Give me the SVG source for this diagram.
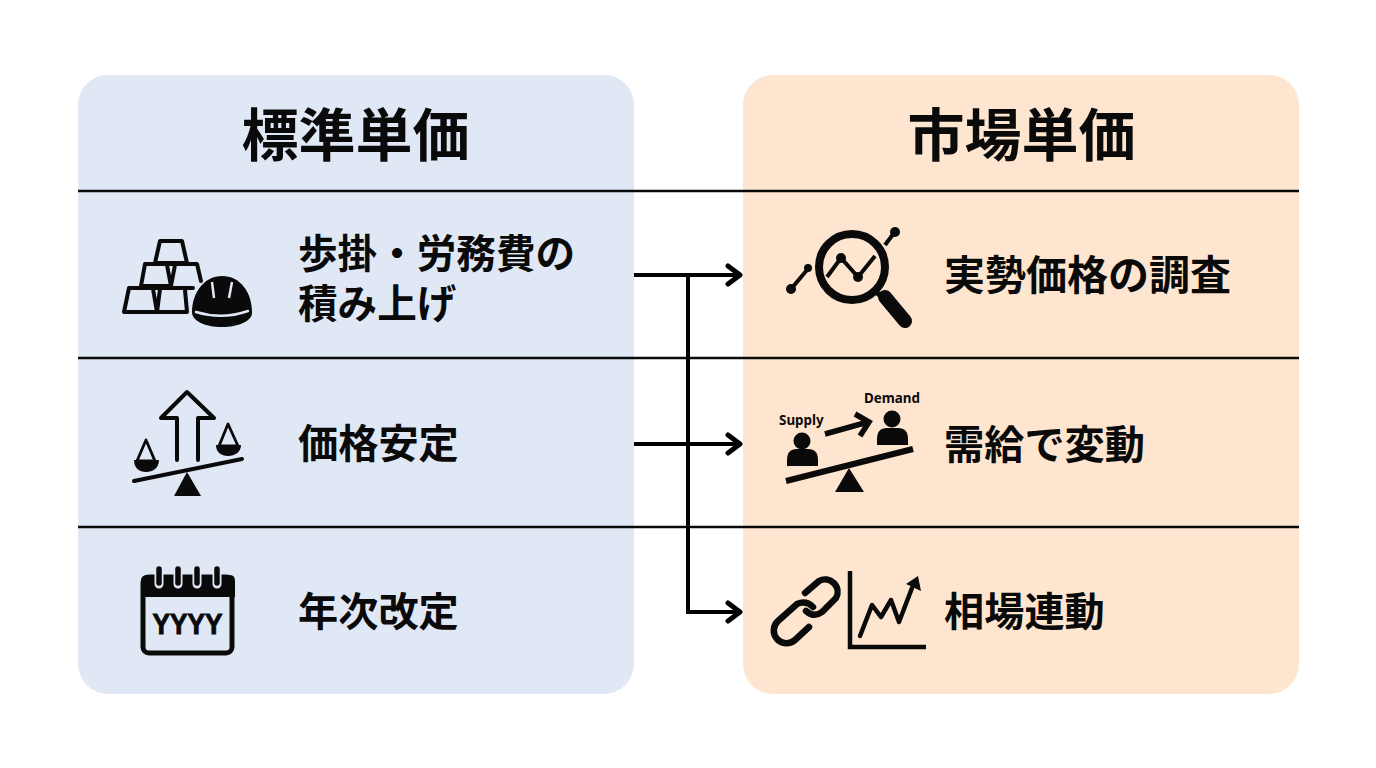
<svg xmlns="http://www.w3.org/2000/svg" width="1376" height="768" viewBox="0 0 1376 768">
<style>
.t{font-family:"Noto Sans CJK JP","Noto Sans",sans-serif;font-weight:700;fill:#0a0a0a}
.h{font-size:57px;text-anchor:middle}
.r{font-size:40.2px}
.s{fill:none;stroke:#0a0a0a;stroke-width:4;stroke-linejoin:round;stroke-linecap:round}
.f{fill:#0a0a0a}
.c{fill:none;stroke:#000;stroke-width:4}
.d{stroke:#0a0a0a;stroke-width:2.6}
.l{font-family:"Noto Sans","Liberation Sans",sans-serif;font-weight:700;font-size:13.4px;fill:#0a0a0a}
</style>
<defs>
<marker id="a" markerUnits="userSpaceOnUse" markerWidth="20" markerHeight="24" refX="15" refY="12" orient="auto"><path d="M3 3L15 12L3 21" fill="none" stroke="#000" stroke-width="5" stroke-linecap="round" stroke-linejoin="round"/></marker>
</defs>
<rect width="1376" height="768" fill="#fff"/>
<g id="panel-standard"><rect x="78" y="75" width="556" height="619" rx="30" fill="#e0e8f6"/></g>
<g id="panel-market"><rect x="743" y="75" width="556" height="619" rx="30" fill="#fde5d0"/></g>
<g id="dividers">
<line class="d" x1="78" y1="191" x2="1299" y2="191"/>
<line class="d" x1="78" y1="358" x2="1299" y2="358"/>
<line class="d" x1="78" y1="527" x2="1299" y2="527"/>
</g>
<g id="connectors">
<path class="c" d="M634 275H740" marker-end="url(#a)"/>
<path class="c" d="M634 444H740" marker-end="url(#a)"/>
<path class="c" d="M688 275V612H740" marker-end="url(#a)"/>
</g>
<g id="title-standard"><text class="t h" x="355.500" y="156">標準単価</text></g>
<g id="title-market"><text class="t h" x="1021.500" y="156">市場単価</text></g>
<g id="std-1">
<path class="s" d="M160 241H182L187 263H155Z"/>
<path class="s" d="M145 264H197L201 281M145 264L141 286H171L167 265M171 286L175 265"/>
<path class="s" d="M129 288H193M129 288L124 312H187L185 290M153 289L157 312L160 289"/>
<path class="f" d="M192 312C192 292 205 276 222 276C240 276 252 292 252 313C252 321 238 327 222 327C205 327 192 321 192 312Z"/>
<path d="M196 312Q222 320 248 311" fill="none" stroke="#e0e8f6" stroke-width="2.5" stroke-linecap="round"/>
<path d="M212 282L214 298M232 282L229 298" fill="none" stroke="#e0e8f6" stroke-width="2.5"/>
<text class="t" font-size="39.6" x="298" y="268">歩掛・労務費の</text>
<text class="t" font-size="39.6" x="298" y="318">積み上げ</text>
</g>
<g id="std-2">
<path class="s" d="M177 460V418H161L187 392L214 418H198V460"/>
<path d="M134 481L242 459" fill="none" stroke="#0a0a0a" stroke-width="4" stroke-linecap="round"/>
<path class="f" d="M187 472L201 496H174Z"/>
<path d="M146 440L137 461H155Z" fill="none" stroke="#0a0a0a" stroke-width="2.8" stroke-linejoin="round"/>
<path class="f" d="M134 460H159C159 468 153 472 146 472C139 472 134 468 134 460Z"/>
<path d="M228 424L219 446H238Z" fill="none" stroke="#0a0a0a" stroke-width="2.8" stroke-linejoin="round"/>
<path class="f" d="M216 445H241C241 452 235 456 228 456C221 456 216 452 216 445Z"/>
<text class="t r" x="298" y="458">価格安定</text>
</g>
<g id="std-3">
<rect x="143" y="577" width="89" height="76" rx="6" fill="none" stroke="#0a0a0a" stroke-width="5"/>
<path class="f" d="M141 597V581Q141 575 147 575H230Q235 575 235 581V597Z"/>
<path d="M159 568V584M178 568V584M197 568V584M217 568V584" stroke="#e0e8f6" stroke-width="9" stroke-linecap="round"/>
<path d="M159 569V583M178 569V583M197 569V583M217 569V583" stroke="#0a0a0a" stroke-width="5.500" stroke-linecap="round"/>
<text x="187.500" y="634" text-anchor="middle" font-family="Liberation Sans,sans-serif" font-weight="700" font-size="30" fill="#0a0a0a" stroke="#0a0a0a" stroke-width="1" textLength="70" lengthAdjust="spacingAndGlyphs">YYYY</text>
<text class="t r" x="298" y="626">年次改定</text>
</g>
<g id="mkt-1">
<circle cx="852" cy="267" r="33" fill="none" stroke="#0a0a0a" stroke-width="8"/>
<path d="M827 277L841 258L858 277L875 256" fill="none" stroke="#0a0a0a" stroke-width="4"/>
<circle class="f" cx="841" cy="258" r="5"/><circle class="f" cx="858" cy="277" r="5"/>
<path d="M885 297L905 321" stroke="#0a0a0a" stroke-width="14" stroke-linecap="round"/>
<path d="M876 292L888 302" stroke="#0a0a0a" stroke-width="5"/>
<path d="M791 289L807 270" stroke="#0a0a0a" stroke-width="4"/><circle class="f" cx="791" cy="289" r="5"/><circle class="f" cx="808" cy="268" r="4"/>
<path d="M885 245L894 233" stroke="#0a0a0a" stroke-width="4"/><circle class="f" cx="895" cy="232" r="5"/>
<text class="t" font-size="41" x="944" y="290">実勢価格の調査</text>
</g>
<g id="mkt-2">
<text class="l" x="779" y="425">Supply</text>
<text class="l" x="864" y="403">Demand</text>
<circle class="f" cx="802" cy="441" r="8.500"/>
<path class="f" d="M787 466V460Q787 449 797 449H808Q818 449 818 460V466Z"/>
<circle class="f" cx="892" cy="419" r="8.500"/>
<path class="f" d="M877 445V439Q877 428 887 428H898Q908 428 908 439V445Z"/>
<path d="M825 434L868 422M855 414L869 422L860 436" fill="none" stroke="#0a0a0a" stroke-width="5.500"/>
<path d="M786 481L913 449" stroke="#0a0a0a" stroke-width="6"/>
<path class="f" d="M849 468L864 492H835Z"/>
<text class="t r" x="944" y="459">需給で変動</text>
</g>
<g id="mkt-3">
<path d="M805 593L819 581A12.500 12.500 0 0 1 836 598L822 612Q814 618 806 611" fill="none" stroke="#0a0a0a" stroke-width="6.500" stroke-linecap="round"/>
<path d="M813 607Q806 600 797 604L778 621A12.500 12.500 0 0 0 795 640L809 627" fill="none" stroke="#0a0a0a" stroke-width="6.500" stroke-linecap="round"/>
<path d="M850 571V647H926" fill="none" stroke="#0a0a0a" stroke-width="4.500"/>
<path d="M860 636L872 605L881 617L891 600L899 622L912 588" fill="none" stroke="#0a0a0a" stroke-width="4.500" stroke-linecap="round" stroke-linejoin="round"/>
<path class="f" d="M906 584L918 576L921 591Z"/>
<text class="t r" x="944" y="626">相場連動</text>
</g>
</svg>
